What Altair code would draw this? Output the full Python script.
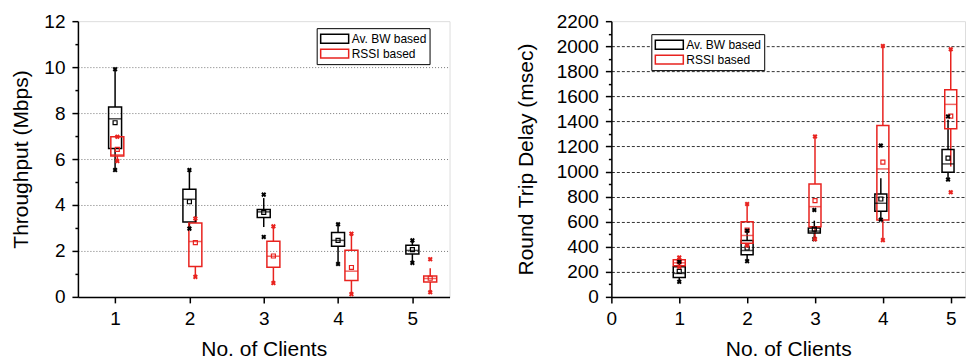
import altair as alt
import pandas as pd

series_names = ["Av. BW based", "RSSI based"]
series_colors = ["#000000", "#e8231f"]

# ---- Left panel: Throughput (Mbps) ----
thr_bw_x = [1, 2, 3, 4, 5]
thr_bw_min = [5.52, 2.97, 2.61, 1.43, 1.48]
thr_bw_wlo = [5.52, 2.97, 3.04, 1.43, 1.48]
thr_bw_q1 = [6.46, 3.26, 3.46, 2.20, 1.87]
thr_bw_med = [7.75, 4.25, 3.70, 2.46, 2.02]
thr_bw_mean = [7.58, 4.14, 3.68, 2.46, 2.06]
thr_bw_q3 = [8.26, 4.68, 3.80, 2.80, 2.25]
thr_bw_whi = [9.91, 5.52, 4.30, 3.16, 2.46]
thr_bw_max = [9.91, 5.52, 4.45, 3.16, 2.46]

thr_rs_x = [1.03, 2.08, 3.13, 4.18, 5.24]
thr_rs_min = [5.91, 0.87, 0.60, 0.12, 0.20]
thr_rs_wlo = [5.91, 0.87, 0.60, 0.12, 0.20]
thr_rs_q1 = [6.13, 1.32, 1.29, 0.71, 0.65]
thr_rs_med = [6.18, 2.41, 1.77, 1.12, 0.80]
thr_rs_mean = [6.42, 2.36, 1.78, 1.28, 0.81]
thr_rs_q3 = [6.97, 3.22, 2.42, 2.03, 0.91]
thr_rs_whi = [6.97, 3.41, 3.07, 2.75, 1.25]
thr_rs_max = [6.97, 3.41, 3.07, 2.75, 1.64]

# ---- Right panel: Round Trip Delay (msec) ----
rtt_bw_x = [1, 2, 2.99, 3.97, 4.96]
rtt_bw_min = [120, 285, 461, 616, 936]
rtt_bw_wlo = [120, 285, 461, 616, 936]
rtt_bw_q1 = [155, 336, 509, 683, 995]
rtt_bw_med = [187, 370, 525, 747, 1061]
rtt_bw_mean = [203, 390, 540, 781, 1107]
rtt_bw_q3 = [240, 450, 549, 821, 1176]
rtt_bw_whi = [280, 528, 608, 947, 1413]
rtt_bw_max = [280, 528, 693, 1208, 1440]

rtt_rs_x = [1, 2, 3, 4, 5]
rtt_rs_min = [240, 410, 461, 453, 835]
rtt_rs_wlo = [240, 410, 461, 453, 1040]
rtt_rs_q1 = [248, 427, 560, 613, 1341]
rtt_rs_med = [272, 490, 720, 1021, 1536]
rtt_rs_mean = [282, 533, 768, 1075, 1443]
rtt_rs_q3 = [296, 600, 901, 1368, 1653]
rtt_rs_whi = [315, 741, 1280, 2002, 1976]
rtt_rs_max = [315, 741, 1280, 2002, 1976]

FONT = "Liberation Sans"


def frame(name, x, mn, wlo, q1, med, mean, q3, whi, mx):
    return pd.DataFrame({"series": name, "x": x, "mn": mn, "wlo": wlo, "q1": q1,
                         "med": med, "mean": mean, "q3": q3, "whi": whi, "mx": mx})


def panel(df, xdom, xvals, ydom, yvals, ymajor, ygrid_lo, ygrid_hi, ytitle,
          grid_dash, grid_color, box_w, w, h, leg_x, leg_y, ytitle_pad):
    xs = alt.Scale(domain=xdom, nice=False, zero=False, padding=0)
    ys = alt.Scale(domain=ydom, nice=False, zero=False, padding=0)
    cs = alt.Scale(domain=series_names, range=series_colors)
    xaxis = alt.Axis(values=xvals, grid=False, tickSize=6, tickWidth=1.5, tickColor="black",
                     domainColor="black", domainWidth=1.5, labelFont=FONT, labelFontSize=19,
                     labelColor="black", labelPadding=7, labelFlush=False, labelOverlap=False,
                     titleFont=FONT, titleFontSize=21, titleFontWeight="normal",
                     titleColor="black", titlePadding=10, format="d")
    yaxis = alt.Axis(values=yvals, tickWidth=1.5, tickColor="black",
                     tickSize={"condition": {"test": f"datum.value % {ymajor} != 0", "value": 3}, "value": 6},
                     grid=True, gridColor=grid_color, gridWidth=1, gridDash=grid_dash,
                     gridOpacity={"condition": {"test": f"datum.value % {ymajor} != 0 || datum.value < {ygrid_lo} || datum.value > {ygrid_hi}", "value": 0}, "value": 1},
                     domainColor="black", domainWidth=1.5, labelFont=FONT, labelFontSize=19,
                     labelColor="black", labelPadding=7, labelOverlap=False, labelFlush=False,
                     labelExpr=f"datum.value % {ymajor} == 0 ? datum.label : ''", format="d",
                     titleFont=FONT, titleFontSize=21, titleFontWeight="normal",
                     titleColor="black", titlePadding=ytitle_pad)
    legend = alt.Legend(
        title=None, orient="none", legendX=leg_x, legendY=leg_y,
        symbolType="M-1,-0.69H3.31V0.69H-1Z", symbolSize=169, symbolStrokeWidth=1.5,
        symbolFillColor="transparent", labelFont=FONT, labelFontSize=12,
        labelColor="black", labelOffset=17, rowPadding=0, padding=3,
        strokeColor="black", fillColor="white")
    base = alt.Chart(df)
    X = alt.X("x:Q", scale=xs, axis=xaxis, title="No. of Clients")
    col = alt.condition(f"datum.series == '{series_names[1]}'",
                        alt.value(series_colors[1]), alt.value(series_colors[0]))
    Y = lambda f: alt.Y(f, scale=ys, axis=yaxis, title=ytitle)

    whisk_lo = base.mark_rule(strokeWidth=1.5).encode(x=X, y=Y("wlo:Q"), y2="q1:Q", color=col)
    whisk_hi = base.mark_rule(strokeWidth=1.5).encode(x=X, y=Y("q3:Q"), y2="whi:Q", color=col)
    box = base.mark_bar(filled=False, size=box_w, strokeWidth=1.5).encode(
        x=X, y=Y("q1:Q"), y2="q3:Q",
        stroke=alt.Stroke("series:N", scale=cs, legend=legend))
    median = base.mark_tick(orient="horizontal", size=box_w, thickness=1.5).encode(
        x=X, y=Y("med:Q"), color=col)
    mean = base.mark_point(shape="square", filled=False, size=16, strokeWidth=1.2, opacity=1).encode(
        x=X, y=Y("mean:Q"), color=col)
    lo = base.mark_point(shape="cross", angle=45, filled=True, size=26, opacity=1).encode(
        x=X, y=Y("mn:Q"), color=col)
    hi = base.mark_point(shape="cross", angle=45, filled=True, size=26, opacity=1).encode(
        x=X, y=Y("mx:Q"), color=col)
    return alt.layer(whisk_lo, whisk_hi, box, median, mean, lo, hi).properties(width=w, height=h)


df_thr = pd.concat([
    frame(series_names[0], thr_bw_x, thr_bw_min, thr_bw_wlo, thr_bw_q1, thr_bw_med,
          thr_bw_mean, thr_bw_q3, thr_bw_whi, thr_bw_max),
    frame(series_names[1], thr_rs_x, thr_rs_min, thr_rs_wlo, thr_rs_q1, thr_rs_med,
          thr_rs_mean, thr_rs_q3, thr_rs_whi, thr_rs_max)])
df_rtt = pd.concat([
    frame(series_names[0], rtt_bw_x, rtt_bw_min, rtt_bw_wlo, rtt_bw_q1, rtt_bw_med,
          rtt_bw_mean, rtt_bw_q3, rtt_bw_whi, rtt_bw_max),
    frame(series_names[1], rtt_rs_x, rtt_rs_min, rtt_rs_wlo, rtt_rs_q1, rtt_rs_med,
          rtt_rs_mean, rtt_rs_q3, rtt_rs_whi, rtt_rs_max)])

left = panel(df_thr, [0.5, 5.5], [1, 2, 3, 4, 5], [0, 12], list(range(0, 13)), 2, 1, 11,
             "Throughput (Mbps)", [1, 2], "#777777", 13, 372, 276, 239, 7, 12)
right = panel(df_rtt, [0, 5.21], [0, 1, 2, 3, 4, 5], [0, 2200], list(range(0, 2201, 100)), 200,
              100, 2100, "Round Trip Delay (msec)", [3, 2], "#333333", 12, 354, 276, 40, 13, 20)

chart = alt.hconcat(left, right, spacing=64).resolve_legend(stroke="independent").resolve_scale(
    stroke="independent").properties(
    padding={"left": 2, "top": 3, "right": 0, "bottom": 0}
).configure_view(stroke=None).configure(background="white")

chart.save("out.html", embed_options={"renderer": "svg", "actions": False})
